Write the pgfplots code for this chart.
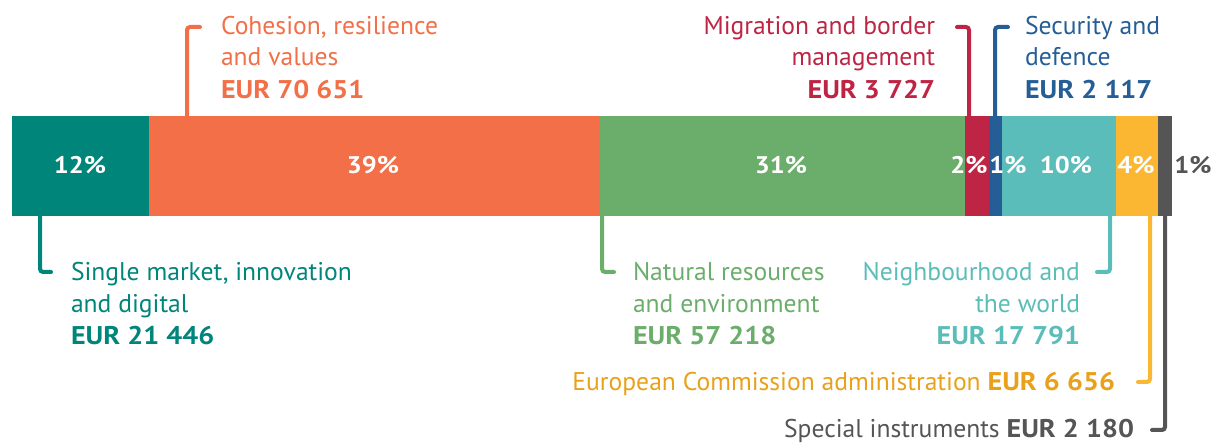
\documentclass[border=0pt]{standalone}
\usepackage{pgfplots}
\pgfplotsset{compat=1.18}
\usepackage{fontspec}
\setmainfont{PT Sans}[BoldFeatures={FakeStretch=1.1}]
\definecolor{cTeal}{HTML}{00857A}
\definecolor{cOrange}{HTML}{F26F48}
\definecolor{cGreen}{HTML}{6BAD6A}
\definecolor{cRed}{HTML}{BE2443}
\definecolor{cBlue}{HTML}{255E96}
\definecolor{cCyan}{HTML}{5BBDB9}
\definecolor{cYellow}{HTML}{FBB731}
\definecolor{cYellowTxt}{HTML}{E9A11B}
\definecolor{cGray}{HTML}{555555}
\begin{document}
\begin{tikzpicture}
\begin{axis}[name=ax, at={(0,0)}, anchor=south west, scale only axis,
  width=607.5pt, height=222pt, xmin=-1880.5, xmax=188524.6, ymin=0, ymax=444,
  hide axis, xbar stacked, bar width=100, clip=false]
\addplot[fill=cTeal, draw=none] coordinates {(21446,278)};
\addplot[fill=cOrange, draw=none] coordinates {(70651,278)};
\addplot[fill=cGreen, draw=none] coordinates {(57218,278)};
\addplot[fill=cRed, draw=none] coordinates {(3727,278)};
\addplot[fill=cBlue, draw=none] coordinates {(2117,278)};
\addplot[fill=cCyan, draw=none] coordinates {(17791,278)};
\addplot[fill=cYellow, draw=none] coordinates {(6656,278)};
\addplot[fill=cGray, draw=none] coordinates {(2180,278)};
\end{axis}
\begin{scope}[x=0.5pt, y=-0.5pt, yshift=222pt, line width=2pt, line cap=round, rounded corners=1.5pt,
  lab/.style={font=\fontsize{12.8}{15}\selectfont, inner sep=0pt},
  pct/.style={font=\fontsize{12}{14}\selectfont\bfseries, inner sep=0pt, anchor=base, text=white}]
% percentages
\node[pct] at (80,174) {12\%};
\node[pct] at (373,174) {39\%};
\node[pct] at (781,174) {31\%};
\node[pct] at (969,174) {2\%};
\node[pct] at (1008,174) {1\%};
\node[pct] at (1066,174) {10\%};
\node[pct] at (1136,174) {4\%};
\node[pct, text=cGray] at (1193,174) {1\%};
% teal
\draw[cTeal] (40,216) -- (40,272) -- (51,272);
\node[lab, text=cTeal, anchor=base west] at (69,281) {Single market, innovation};
\node[lab, text=cTeal, anchor=base west] at (69,313) {and digital};
\node[lab, text=cTeal, anchor=base west] at (69,345) {\bfseries EUR 21 446};
% orange
\draw[cOrange] (187,116) -- (187,27) -- (200,27);
\node[lab, text=cOrange, anchor=base west] at (219,35) {Cohesion, resilience};
\node[lab, text=cOrange, anchor=base west] at (219,66) {and values};
\node[lab, text=cOrange, anchor=base west] at (219,99) {\bfseries EUR 70 651};
% red
\draw[cRed] (969,116) -- (969,27) -- (957,27);
\node[lab, text=cRed, anchor=base east] at (937,35) {Migration and border};
\node[lab, text=cRed, anchor=base east] at (937,66) {management};
\node[lab, text=cRed, anchor=base east] at (937,99) {\bfseries EUR 3 727};
% blue
\draw[cBlue] (995,116) -- (995,27) -- (1008,27);
\node[lab, text=cBlue, anchor=base west] at (1023,35) {Security and};
\node[lab, text=cBlue, anchor=base west] at (1023,66) {defence};
\node[lab, text=cBlue, anchor=base west] at (1023,99) {\bfseries EUR 2 117};
% green
\draw[cGreen] (602,216) -- (602,272) -- (614,272);
\node[lab, text=cGreen, anchor=base west] at (631,281) {Natural resources};
\node[lab, text=cGreen, anchor=base west] at (631,313) {and environment};
\node[lab, text=cGreen, anchor=base west] at (631,345) {\bfseries EUR 57 218};
% cyan
\draw[cCyan] (1110,216) -- (1110,272) -- (1097,272);
\node[lab, text=cCyan, anchor=base east] at (1082,281) {Neighbourhood and};
\node[lab, text=cCyan, anchor=base east] at (1082,313) {the world};
\node[lab, text=cCyan, anchor=base east] at (1082,345) {\bfseries EUR 17 791};
% yellow
\draw[cYellow] (1150,216) -- (1150,382) -- (1138,382);
\node[lab, text=cYellowTxt, anchor=base east] at (1117,391) {European Commission administration \textbf{EUR 6 656}};
% gray
\draw[cGray] (1165,216) -- (1165,430) -- (1152,430);
\node[lab, text=cGray, anchor=base east] at (1136,438) {Special instruments \textbf{EUR 2 180}};
\end{scope}
\pgfresetboundingbox
\path (0,0) rectangle (607.5pt,222pt);
\end{tikzpicture}
\end{document}
